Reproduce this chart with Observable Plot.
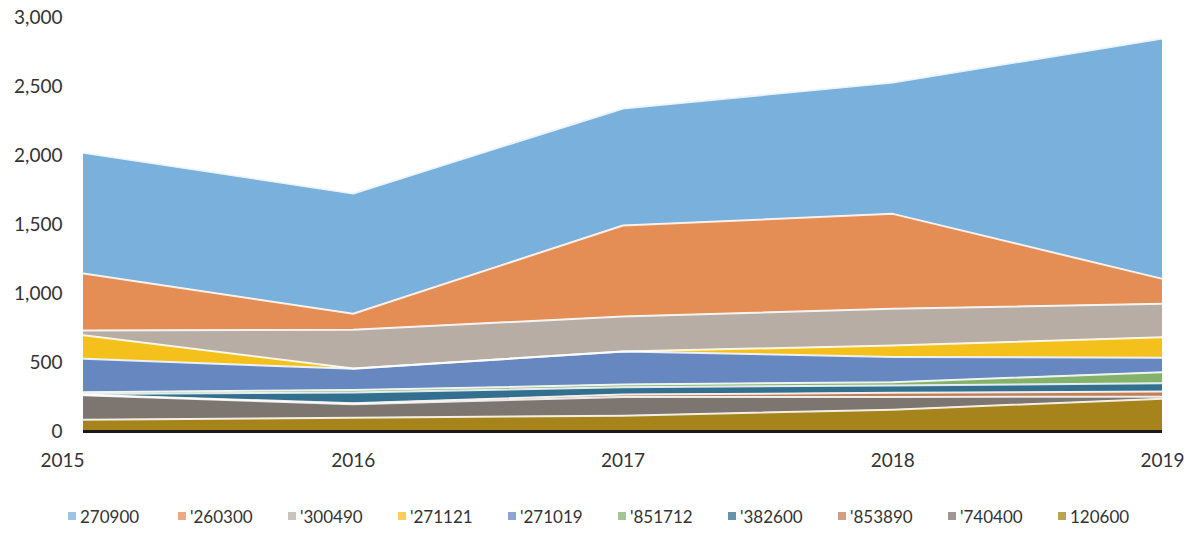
<!DOCTYPE html>
<html>
<head>
<meta charset="utf-8">
<script src="https://cdn.jsdelivr.net/npm/d3@7"></script>
<script src="https://cdn.jsdelivr.net/npm/@observablehq/plot@0.6"></script>
<style>
  body { margin: 0; background: #fff; font-family: Lato, "Open Sans", sans-serif; }
  #legend { display: flex; height: 52px; align-items: center; padding-left: 68px; color: #333; font-size: 17px; }
  .item { width: 110px; display: flex; align-items: center; white-space: nowrap; }
  .sw { width: 8px; height: 8px; margin-right: 4px; opacity: 0.75; }
</style>
</head>
<body>
<div id="chart"></div>
<div id="legend"></div>
<script>
const years = [2015, 2016, 2017, 2018, 2019];
// legend order (top of stack first)
const seriesNames = ["270900", "'260300", "'300490", "'271121", "'271019", "'851712", "'382600", "'853890", "'740400", "120600"];
const colors = ["#79B0DC", "#E48D55", "#B8ADA5", "#F4C01B", "#6787C0", "#84B26A", "#336F8F", "#C0805A", "#7C7570", "#A6841B"];
const v270900 = [875, 872, 848, 952, 1742];
const v260300 = [413, 116, 660, 688, 181];
const v300490 = [35, 281, 253, 266, 242];
const v271121 = [170, 2, 0, 83, 149];
const v271019 = [242, 154, 240, 183, 104];
const v851712 = [13, 17, 19, 24, 80];
const v382600 = [6, 78, 53, 53, 60];
const v853890 = [4, 7, 18, 30, 38];
const v740400 = [177, 98, 135, 92, 14];
const v120600 = [85, 100, 115, 158, 238];
const seriesValues = [v270900, v260300, v300490, v271121, v271019, v851712, v382600, v853890, v740400, v120600];
const yTicks = [0, 500, 1000, 1500, 2000, 2500, 3000];

const data = [];
seriesNames.forEach((s, i) => years.forEach((yr, j) => data.push({series: s, year: yr, value: seriesValues[i][j]})));
const stackOrder = seriesNames.slice().reverse();

const chart = Plot.plot({
  width: 1199,
  height: 490,
  marginLeft: 83,
  marginRight: 37,
  marginTop: 17,
  marginBottom: 59,
  style: {fontFamily: "Lato, 'Open Sans', sans-serif", fontSize: "19px", color: "#333"},
  x: {domain: [2015, 2019]},
  y: {domain: [0, 3000]},
  color: {domain: seriesNames, range: colors},
  marks: [
    Plot.areaY(data, Plot.stackY({x: "year", y: "value", z: "series", fill: "series", order: stackOrder})),
    Plot.lineY(data, Plot.stackY2({x: "year", y: "value", z: "series", order: stackOrder, stroke: "white", strokeWidth: 2, strokeOpacity: 0.85})),
    Plot.ruleY([0], {stroke: "#1a1a1a", strokeWidth: 3}),
    Plot.axisY({ticks: yTicks, tickFormat: d3.format(","), tickSize: 0, tickPadding: 21, label: null, fontSize: 19, fill: "#333"}),
    Plot.axisX({ticks: years.slice(1), tickFormat: d => String(d), tickSize: 0, tickPadding: 22, label: null, fontSize: 19, fill: "#333"}),
    Plot.axisX({ticks: [years[0]], tickFormat: d => String(d), tickSize: 0, tickPadding: 22, dx: -21, label: null, fontSize: 19, fill: "#333"})
  ]
});
document.getElementById("chart").appendChild(chart);

const legend = document.getElementById("legend");
seriesNames.forEach((s, i) => {
  const it = document.createElement("div");
  it.className = "item";
  const sw = document.createElement("span");
  sw.className = "sw";
  sw.style.background = colors[i];
  const t = document.createElement("span");
  t.textContent = s;
  it.appendChild(sw); it.appendChild(t);
  legend.appendChild(it);
});
</script>
</body>
</html>
